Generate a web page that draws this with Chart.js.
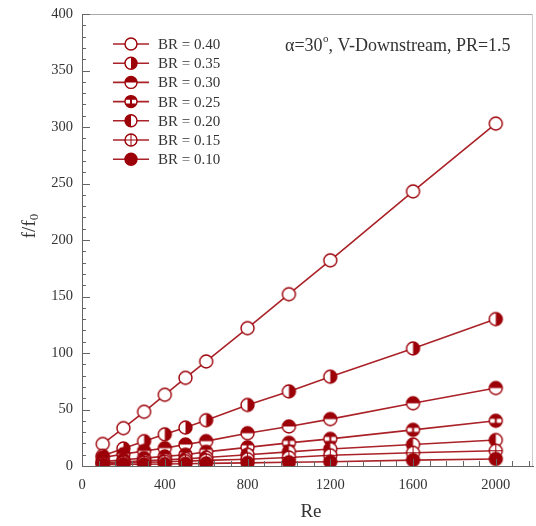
<!DOCTYPE html>
<html>
<head>
<meta charset="utf-8">
<script src="https://cdn.jsdelivr.net/npm/chart.js@4.4.1/dist/chart.umd.min.js"></script>
<style>
  html, body { margin: 0; padding: 0; background: #fff; }
  #wrap { width: 536px; height: 526px; }
</style>
</head>
<body>
<div id="wrap"><canvas id="chart" width="536" height="526"></canvas></div>
<script>
// Re values shared by every series
const reynolds = [100, 200, 300, 400, 500, 600, 800, 1000, 1200, 1600, 2000]

// f/f0, one array per blockage ratio
const br040 = [19.5, 33.5, 48, 63, 78, 92.5, 122, 152, 182, 243, 303]
const br035 = [9, 15.5, 22, 28, 34, 40.5, 54, 66, 79, 104, 130]
const br030 = [7.5, 10.5, 13.3, 15.8, 19, 22, 29, 35, 41.5, 55.5, 69]
const br025 = [4, 5.5, 7, 8.5, 10, 12.5, 16.5, 20.5, 24, 32, 40]
const br020 = [3, 3.8, 4.6, 5.5, 6.3, 7.5, 10, 12.5, 15, 19, 23]
const br015 = [2.2, 2.7, 3.2, 3.8, 4.3, 5, 6, 7.5, 9.5, 11.7, 13.5]
const br010 = [1.2, 1.4, 1.6, 1.8, 2, 2.3, 2.8, 3.3, 3.8, 5.2, 6.2]

const seriesLabels = ["BR = 0.40", "BR = 0.35", "BR = 0.30", "BR = 0.25", "BR = 0.20", "BR = 0.15", "BR = 0.10"]
const seriesValues = [br040, br035, br030, br025, br020, br015, br010]
const markerKinds = ["open", "right", "top", "bar", "left", "cross", "full"]

const xTicks = { min: 0, max: 2180, step: 400, minor: 80 }
const yTicks = { min: 0, max: 400, step: 50, minor: 10 }

const LINE = "#aa2228"
const MARK = "#9c0008"
const SERIF = "'Liberation Serif', 'Times New Roman', serif"

function drawMarker(ctx, kind, cx, cy, r) {
  ctx.save()
  ctx.beginPath()
  ctx.arc(cx, cy, r, 0, Math.PI * 2)
  ctx.fillStyle = "#fff"
  ctx.fill()
  ctx.fillStyle = MARK
  ctx.strokeStyle = MARK
  ctx.lineWidth = 1.4

  const half = (a0, a1) => {
    ctx.beginPath()
    ctx.arc(cx, cy, r, a0, a1)
    ctx.closePath()
    ctx.fill()
  }

  if (kind === "full") {
    ctx.beginPath()
    ctx.arc(cx, cy, r, 0, Math.PI * 2)
    ctx.fill()
  } else if (kind === "right") {
    half(-Math.PI / 2, Math.PI / 2)
  } else if (kind === "left") {
    half(Math.PI / 2, Math.PI * 1.5)
  } else if (kind === "top") {
    half(Math.PI, Math.PI * 2)
  } else if (kind === "bar") {
    const a = Math.asin(0.3)
    ctx.beginPath()
    ctx.arc(cx, cy, r, Math.PI + a, -a)
    ctx.closePath()
    ctx.fill()
    ctx.beginPath()
    ctx.arc(cx, cy, r, a, Math.PI - a)
    ctx.closePath()
    ctx.fill()
    ctx.beginPath()
    ctx.moveTo(cx, cy - r)
    ctx.lineTo(cx, cy + r)
    ctx.lineWidth = 2
    ctx.stroke()
    ctx.lineWidth = 1.4
  } else if (kind === "cross") {
    ctx.beginPath()
    ctx.moveTo(cx - r, cy)
    ctx.lineTo(cx + r, cy)
    ctx.moveTo(cx, cy - r)
    ctx.lineTo(cx, cy + r)
    ctx.lineWidth = 1
    ctx.stroke()
    ctx.lineWidth = 1.4
  }

  ctx.beginPath()
  ctx.arc(cx, cy, r, 0, Math.PI * 2)
  ctx.stroke()
  ctx.restore()
}

function markerImage(kind, r) {
  const size = Math.ceil(r * 2 + 4)
  const c = document.createElement("canvas")
  c.width = size
  c.height = size
  drawMarker(c.getContext("2d"), kind, size / 2, size / 2, r)
  return c
}

const datasets = seriesLabels.map((label, i) => ({
  label: label,
  data: reynolds.map((re, j) => ({ x: re, y: seriesValues[i][j] })),
  borderColor: LINE,
  borderWidth: 1.6,
  pointStyle: markerImage(markerKinds[i], 6.5),
  pointRadius: 7,
  fill: false,
  tension: 0,
  order: seriesLabels.length - i,
}))

// inner tick marks plus the light top / right frame
const frameTicks = {
  id: "frameTicks",
  afterDatasetsDraw(chart) {
    const { ctx, chartArea: a, scales: { x, y } } = chart
    ctx.save()
    ctx.strokeStyle = "#aaa"
    ctx.lineWidth = 1
    ctx.beginPath()
    ctx.moveTo(a.left, a.top + 0.5)
    ctx.lineTo(a.right, a.top + 0.5)
    ctx.stroke()
    ctx.strokeStyle = "#ccc"
    ctx.beginPath()
    ctx.moveTo(a.right - 0.5, a.top)
    ctx.lineTo(a.right - 0.5, a.bottom)
    ctx.stroke()

    ctx.strokeStyle = "#666"
    ctx.beginPath()
    for (let v = yTicks.min; v <= yTicks.max; v += yTicks.minor) {
      const py = Math.round(y.getPixelForValue(v)) + 0.5
      const len = v % yTicks.step === 0 ? 8 : 4
      ctx.moveTo(a.left, py)
      ctx.lineTo(a.left + len, py)
    }
    for (let v = xTicks.min; v <= xTicks.max; v += xTicks.minor) {
      const px = Math.round(x.getPixelForValue(v)) + 0.5
      const len = v % xTicks.step === 0 ? 7 : 5
      ctx.moveTo(px, a.bottom)
      ctx.lineTo(px, a.bottom - len)
    }
    ctx.stroke()
    ctx.restore()
  },
}

// legend, note and axis titles
const overlay = {
  id: "overlay",
  afterDraw(chart) {
    const { ctx } = chart
    ctx.save()
    ctx.fillStyle = "#333"
    ctx.textBaseline = "middle"
    ctx.font = `15px ${SERIF}`
    seriesLabels.forEach((label, i) => {
      const ly = 44 + i * 19.2
      ctx.strokeStyle = LINE
      ctx.lineWidth = 1.6
      ctx.beginPath()
      ctx.moveTo(113, ly)
      ctx.lineTo(149, ly)
      ctx.stroke()
      drawMarker(ctx, markerKinds[i], 131, ly, 6)
      ctx.fillStyle = "#333"
      ctx.textAlign = "left"
      ctx.fillText(label, 158, ly + 1)
    })

    // α=30°, V-Downstream, PR=1.5
    let nx = 285
    const ny = 46
    ctx.font = `18px ${SERIF}`
    ctx.fillText("\u03b1=30", nx, ny)
    nx += ctx.measureText("\u03b1=30").width
    ctx.font = `11px ${SERIF}`
    ctx.fillText("o", nx + 0.5, ny - 7)
    nx += ctx.measureText("o").width + 0.5
    ctx.font = `18px ${SERIF}`
    ctx.fillText(", V-Downstream, PR=1.5", nx, ny)

    // x title
    ctx.font = `19px ${SERIF}`
    ctx.textAlign = "center"
    ctx.fillText("Re", 311, 512)

    // y title f/f0
    ctx.translate(30, 226)
    ctx.rotate(-Math.PI / 2)
    ctx.font = `19px ${SERIF}`
    const w1 = ctx.measureText("f/f").width
    ctx.font = `13px ${SERIF}`
    const w2 = ctx.measureText("0").width
    const x0 = -(w1 + w2) / 2
    ctx.textAlign = "left"
    ctx.font = `19px ${SERIF}`
    ctx.fillText("f/f", x0, 0)
    ctx.font = `13px ${SERIF}`
    ctx.fillText("0", x0 + w1, 5)
    ctx.restore()
  },
}

new Chart(document.getElementById("chart"), {
  type: "line",
  data: { datasets: datasets },
  plugins: [frameTicks, overlay],
  options: {
    responsive: false,
    animation: false,
    events: [],
    layout: { autoPadding: false, padding: { top: 14, right: 3, left: 0, bottom: 0 } },
    plugins: {
      legend: { display: false },
      tooltip: { enabled: false },
    },
    scales: {
      x: {
        type: "linear",
        min: xTicks.min,
        max: xTicks.max,
        grid: { display: false, drawTicks: false, tickLength: 0 },
        border: { display: true, color: "#666", width: 1 },
        ticks: {
          stepSize: xTicks.step,
          includeBounds: false,
          padding: 10,
          color: "#333",
          font: { family: SERIF, size: 14.5 },
          callback: (v) => String(v),
        },
        afterFit: (scale) => {
          scale.height = 60
          scale.paddingLeft = 0
          scale.paddingRight = 0
        },
      },
      y: {
        min: yTicks.min,
        max: yTicks.max,
        grid: { display: false, drawTicks: false, tickLength: 0 },
        border: { display: true, color: "#666", width: 1 },
        ticks: {
          stepSize: yTicks.step,
          padding: 9,
          color: "#333",
          font: { family: SERIF, size: 14.5 },
          callback: (v) => String(v),
        },
        afterFit: (scale) => {
          scale.width = 82
          scale.paddingTop = 0
          scale.paddingBottom = 0
        },
      },
    },
  },
})
</script>
</body>
</html>
